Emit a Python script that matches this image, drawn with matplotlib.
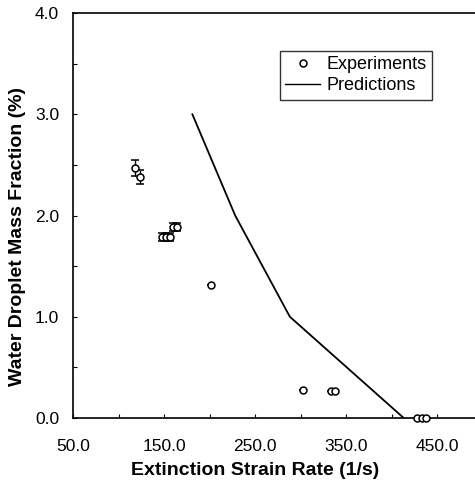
import numpy as np
import matplotlib.pyplot as plt
from matplotlib.ticker import MultipleLocator
from matplotlib.lines import Line2D

plt.rcParams['font.family'] = ['Liberation Sans', 'DejaVu Sans']

# measured points (strain rate, mass fraction, error)
exp_x = [118, 123.5, 147.7, 152, 156.5, 159.4, 163.8, 201.5, 302, 332.8, 337.2, 427.8, 432.6, 437.2]
exp_y = [2.47, 2.38, 1.79, 1.79, 1.79, 1.89, 1.89, 1.31, 0.28, 0.27, 0.27, 0.0, 0.0, 0.0]
exp_err = [0.08, 0.065, 0.04, 0.04, 0.04, 0.04, 0.04, 0, 0, 0, 0, 0, 0, 0]

# model curve
pred_x = [181, 228, 288, 413]
pred_y = [3.0, 2.0, 1.0, 0.0]

x_ticks = [50, 150, 250, 350, 450]
y_ticks = [0, 1, 2, 3, 4]

fig = plt.figure(figsize=(4.75, 4.83), dpi=100)
ax = fig.add_axes([73/475, 65/483, 410/475, 405/483])

ax.plot(pred_x, pred_y, color='black', lw=1.3)
ax.errorbar(exp_x, exp_y, yerr=exp_err, fmt='o', ms=5, mfc='white', mec='black',
            mew=1.1, ecolor='black', elinewidth=1, capsize=3, capthick=1,
            clip_on=False, zorder=3)

ax.set_xlim(50, 500)
ax.set_ylim(0, 4)
ax.set_xticks(x_ticks)
ax.set_xticklabels([f'{v:.1f}' for v in x_ticks])
ax.set_yticks(y_ticks)
ax.set_yticklabels([f'{v:.1f}' for v in y_ticks])
ax.xaxis.set_minor_locator(MultipleLocator(50))
ax.yaxis.set_minor_locator(MultipleLocator(0.5))
ax.tick_params(which='both', direction='in', length=3, width=0.8, labelsize=12.5)
ax.tick_params(axis='x', pad=15)
ax.tick_params(axis='y', pad=10)
for s in ax.spines.values():
    s.set_linewidth(1.2)

ax.set_xlabel('Extinction Strain Rate (1/s)', fontsize=14, fontweight='bold')
ax.xaxis.set_label_coords(0.444, -0.108)
ax.set_ylabel('Water Droplet Mass Fraction (%)', fontsize=14, fontweight='bold')
ax.yaxis.set_label_coords(-0.115, 0.447)

# legend proxies: plain circle and plain line
h_exp = Line2D([], [], ls='none', marker='o', ms=5, mfc='white', mec='black', mew=1.1)
h_pred = Line2D([], [], color='black', lw=1.0)
leg = ax.legend([h_exp, h_pred], ['Experiments', 'Predictions'], loc='upper left',
                bbox_to_anchor=(0.505, 0.906), fontsize=13, frameon=True, fancybox=False,
                edgecolor='black', handlelength=1.9, handletextpad=0.35, borderpad=0.3,
                labelspacing=0.2, borderaxespad=0)
leg.get_frame().set_linewidth(1.0)

fig.savefig('out.png', dpi=100)
